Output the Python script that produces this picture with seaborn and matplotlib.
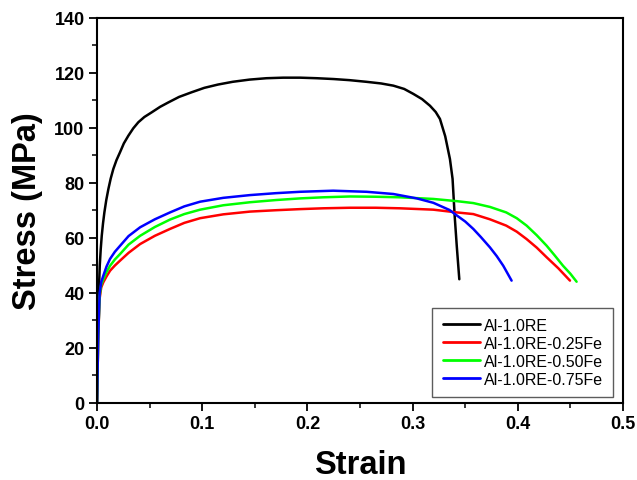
import matplotlib
matplotlib.use("Agg")
import matplotlib.pyplot as plt
import pandas as pd
import seaborn as sns
from matplotlib.ticker import FormatStrFormatter, MultipleLocator

sns.set_theme(style="ticks")
plt.rcParams["font.family"] = ["Liberation Sans", "DejaVu Sans"]
plt.rcParams["text.color"] = "black"
plt.rcParams["axes.labelcolor"] = "black"
plt.rcParams["xtick.color"] = "black"
plt.rcParams["ytick.color"] = "black"

# (strain, stress in MPa)
black_strain = [0.0, 0.0008, 0.0015, 0.0026, 0.0035, 0.0045, 0.0057, 0.007, 0.0088, 0.0108,
                0.013, 0.0155, 0.0185, 0.0219, 0.0255, 0.0298, 0.0345, 0.0393, 0.045, 0.052,
                0.06, 0.0678, 0.078, 0.09, 0.102, 0.115, 0.129, 0.145, 0.161, 0.177,
                0.193, 0.209, 0.225, 0.24, 0.256, 0.27, 0.2817, 0.292, 0.3007, 0.309,
                0.3165, 0.322, 0.326, 0.331, 0.3355, 0.338, 0.340, 0.342, 0.3444]
black_stress = [0.0, 25.0, 38.0, 49.9, 55.8, 60.8, 65.3, 69.3, 73.8, 77.8,
                81.6, 85.1, 88.3, 91.2, 94.4, 97.2, 99.9, 102.1, 104.0, 105.7,
                107.7, 109.3, 111.3, 113.0, 114.6, 115.8, 116.8, 117.6, 118.1, 118.3,
                118.3, 118.1, 117.8, 117.4, 116.8, 116.2, 115.4, 114.2, 112.4, 110.5,
                108.1, 105.8, 103.3, 97.0, 88.7, 81.5, 68.0, 57.0, 45.0]

red_strain = [0.0, 0.0012, 0.0025, 0.004, 0.006, 0.009, 0.0124, 0.017, 0.022, 0.03,
              0.041, 0.055, 0.0694, 0.083, 0.098, 0.12, 0.1454, 0.17, 0.193, 0.215,
              0.2405, 0.265, 0.288, 0.3197, 0.342, 0.3577, 0.3735, 0.389, 0.399, 0.4084,
              0.418, 0.4274, 0.4385, 0.4496]
red_stress = [0.0, 25.0, 38.0, 42.0, 43.9, 46.0, 48.1, 50.0, 51.8, 54.6,
              57.8, 60.8, 63.3, 65.5, 67.2, 68.6, 69.6, 70.1, 70.5, 70.8,
              71.0, 71.0, 70.8, 70.3, 69.3, 68.7, 66.8, 64.5, 62.3, 59.6,
              56.5, 53.0, 49.0, 44.5]

green_strain = [0.0, 0.0012, 0.0025, 0.004, 0.006, 0.009, 0.0124, 0.017, 0.022, 0.03,
                0.041, 0.055, 0.0694, 0.083, 0.098, 0.12, 0.1454, 0.17, 0.193, 0.215,
                0.2405, 0.265, 0.288, 0.3197, 0.342, 0.3577, 0.3735, 0.389, 0.399, 0.4084,
                0.418, 0.4274, 0.435, 0.443, 0.45, 0.4559]
green_stress = [0.0, 25.0, 39.0, 43.0, 45.0, 47.6, 49.9, 52.2, 54.2, 57.6,
                60.8, 64.0, 66.7, 68.7, 70.3, 71.9, 73.0, 73.8, 74.4, 74.8,
                75.1, 75.0, 74.8, 74.2, 73.4, 72.7, 71.3, 69.3, 67.2, 64.5,
                61.0, 57.2, 53.7, 49.9, 47.0, 44.1]

blue_strain = [0.0, 0.0012, 0.0025, 0.004, 0.006, 0.009, 0.0124, 0.017, 0.022, 0.03,
               0.041, 0.055, 0.0694, 0.083, 0.098, 0.12, 0.1454, 0.17, 0.193, 0.2245,
               0.2563, 0.2817, 0.304, 0.3197, 0.335, 0.342, 0.35, 0.3577, 0.365, 0.3735,
               0.38, 0.3862, 0.39, 0.3941]
blue_stress = [0.0, 25.0, 40.0, 44.0, 46.3, 49.6, 52.4, 55.0, 57.2, 60.7,
               63.9, 66.8, 69.3, 71.5, 73.2, 74.6, 75.6, 76.3, 76.8, 77.2,
               76.8, 76.0, 74.4, 72.8, 70.2, 68.2, 66.0, 63.3, 60.3, 56.6,
               53.4, 49.9, 47.3, 44.5]

labels = ["Al-1.0RE", "Al-1.0RE-0.25Fe", "Al-1.0RE-0.50Fe", "Al-1.0RE-0.75Fe"]
colors = ["#000000", "#ff0000", "#00ff00", "#0000ff"]

frames = []
for name, xs, ys in zip(labels,
                        [black_strain, red_strain, green_strain, blue_strain],
                        [black_stress, red_stress, green_stress, blue_stress]):
    frames.append(pd.DataFrame({"strain": xs, "stress": ys, "alloy": name}))
df = pd.concat(frames, ignore_index=True)

fig = plt.figure(figsize=(6.37, 4.81), dpi=100)
ax = fig.add_axes([0.1523, 0.1601, 0.8257, 0.8004])

sns.lineplot(data=df, x="strain", y="stress", hue="alloy", hue_order=labels,
             estimator=None, sort=False, palette=dict(zip(labels, colors)),
             linewidth=1.8, ax=ax)

ax.set_xlim(0, 0.5)
ax.set_ylim(0, 140)
ax.xaxis.set_major_locator(MultipleLocator(0.1))
ax.xaxis.set_minor_locator(MultipleLocator(0.05))
ax.yaxis.set_major_locator(MultipleLocator(20))
ax.yaxis.set_minor_locator(MultipleLocator(10))
ax.xaxis.set_major_formatter(FormatStrFormatter("%.1f"))

for side in ["left", "bottom", "top", "right"]:
    ax.spines[side].set_visible(True)
    ax.spines[side].set_linewidth(1.5)
    ax.spines[side].set_color("black")

ax.tick_params(which="major", direction="out", length=6, width=1.3, color="black",
               labelsize=13, pad=3)
ax.tick_params(which="minor", direction="out", length=3.5, width=1.1, color="black")
for lab in ax.get_xticklabels() + ax.get_yticklabels():
    lab.set_fontweight("bold")

ax.set_xlabel("Strain", fontsize=23.5, fontweight="bold", labelpad=12)
ax.set_ylabel("Stress (MPa)", fontsize=23.5, fontweight="bold", labelpad=8)

handles, _ = ax.get_legend_handles_labels()
leg = ax.legend(handles[:4], labels, loc="lower right", bbox_to_anchor=(0.981, 0.0156),
                borderaxespad=0, frameon=True, fancybox=False, fontsize=11.5,
                handlelength=2.35, handletextpad=0.2, labelspacing=0.18,
                borderpad=0.65)
leg.get_frame().set_edgecolor("#333333")
leg.get_frame().set_linewidth(1.0)
for line in leg.get_lines():
    line.set_linewidth(2.0)

fig.savefig("out.png", dpi=100)
